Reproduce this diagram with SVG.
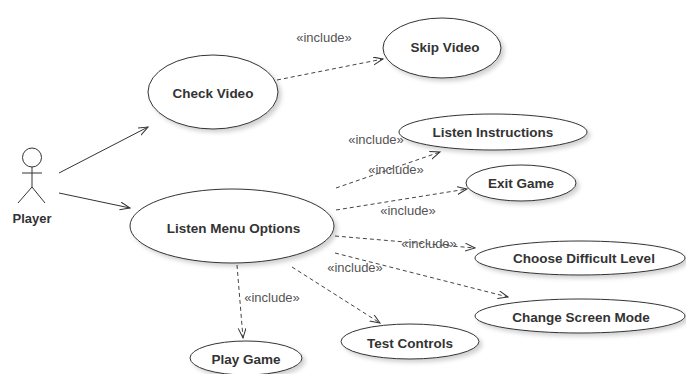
<svg xmlns="http://www.w3.org/2000/svg" width="686" height="374" viewBox="0 0 686 374">
<defs>
<filter id="sh" x="-20%" y="-30%" width="150%" height="170%">
<feDropShadow dx="3" dy="3" stdDeviation="2" flood-color="#000" flood-opacity="0.18"/>
</filter>
<marker id="arr" markerWidth="12" markerHeight="10" refX="10" refY="4" orient="auto" markerUnits="userSpaceOnUse">
<path d="M0,0 L10,4 L0,8" fill="none" stroke="#333" stroke-width="1" stroke-dasharray="none"/>
</marker>
</defs>
<style>
.uc{fill:#fff;stroke:#333;stroke-width:1;filter:url(#sh)}
.lbl{font-family:"Liberation Sans",Arial,sans-serif;font-weight:bold;font-size:13.5px;fill:#333;text-anchor:middle}
.inc{font-family:"Liberation Sans",Arial,sans-serif;font-size:13px;fill:#555;text-anchor:middle}
.assoc{stroke:#333;stroke-width:1;fill:none;marker-end:url(#arr)}
.dep{stroke:#444;stroke-width:1;fill:none;stroke-dasharray:4 3;marker-end:url(#arr)}
</style>
<rect width="686" height="374" fill="#fff"/>
<g id="connectors">
<line class="assoc" x1="59" y1="173" x2="148" y2="127"/>
<line class="assoc" x1="59" y1="193" x2="130" y2="208"/>
<line class="dep" x1="277" y1="80" x2="383" y2="59"/>
<line class="dep" x1="336" y1="188" x2="440" y2="152"/>
<line class="dep" x1="336" y1="210" x2="467" y2="189"/>
<line class="dep" x1="335" y1="236" x2="475" y2="248"/>
<line class="dep" x1="335" y1="253" x2="508" y2="297"/>
<line class="dep" x1="292" y1="267" x2="380" y2="323"/>
<line class="dep" x1="237" y1="265" x2="243" y2="338"/>
<text class="inc" x="324" y="42">«include»</text>
<text class="inc" x="376" y="144">«include»</text>
<text class="inc" x="396" y="174">«include»</text>
<text class="inc" x="408" y="215">«include»</text>
<text class="inc" x="429" y="248">«include»</text>
<text class="inc" x="355" y="272">«include»</text>
<text class="inc" x="272" y="302">«include»</text>
</g>
<g id="player" fill="none" stroke="#333" stroke-width="1">
<circle cx="32" cy="157.5" r="9.5" fill="#fff"/>
<line x1="32" y1="167" x2="32" y2="187"/>
<line x1="22" y1="173" x2="42" y2="173"/>
<line x1="32" y1="187" x2="18" y2="203"/>
<line x1="32" y1="187" x2="45" y2="203"/>
<text x="32" y="223" class="lbl" style="font-size:13px" stroke="none">Player</text>
</g>
<g id="check-video"><ellipse class="uc" cx="213" cy="92" rx="65" ry="37"/><text class="lbl" x="213" y="97.5">Check Video</text></g>
<g id="skip-video"><ellipse class="uc" cx="442" cy="48" rx="59" ry="30"/><text class="lbl" x="445" y="52">Skip Video</text></g>
<g id="listen-menu-options"><ellipse class="uc" cx="232" cy="226" rx="102" ry="37"/><text class="lbl" x="233.5" y="232.5">Listen Menu Options</text></g>
<g id="listen-instructions"><ellipse class="uc" cx="493" cy="132" rx="94" ry="18"/><text class="lbl" x="493" y="137">Listen Instructions</text></g>
<g id="exit-game"><ellipse class="uc" cx="521" cy="183" rx="55" ry="18"/><text class="lbl" x="521" y="188">Exit Game</text></g>
<g id="choose-difficult-level"><ellipse class="uc" cx="580" cy="258" rx="105" ry="17"/><text class="lbl" x="584" y="263">Choose Difficult Level</text></g>
<g id="change-screen-mode"><ellipse class="uc" cx="580" cy="316" rx="105" ry="17"/><text class="lbl" x="581" y="322">Change Screen Mode</text></g>
<g id="test-controls"><ellipse class="uc" cx="410" cy="341.5" rx="69" ry="17.5"/><text class="lbl" x="410" y="347.5">Test Controls</text></g>
<g id="play-game"><ellipse class="uc" cx="246" cy="358" rx="56" ry="17"/><text class="lbl" x="246" y="364">Play Game</text></g>
</svg>
